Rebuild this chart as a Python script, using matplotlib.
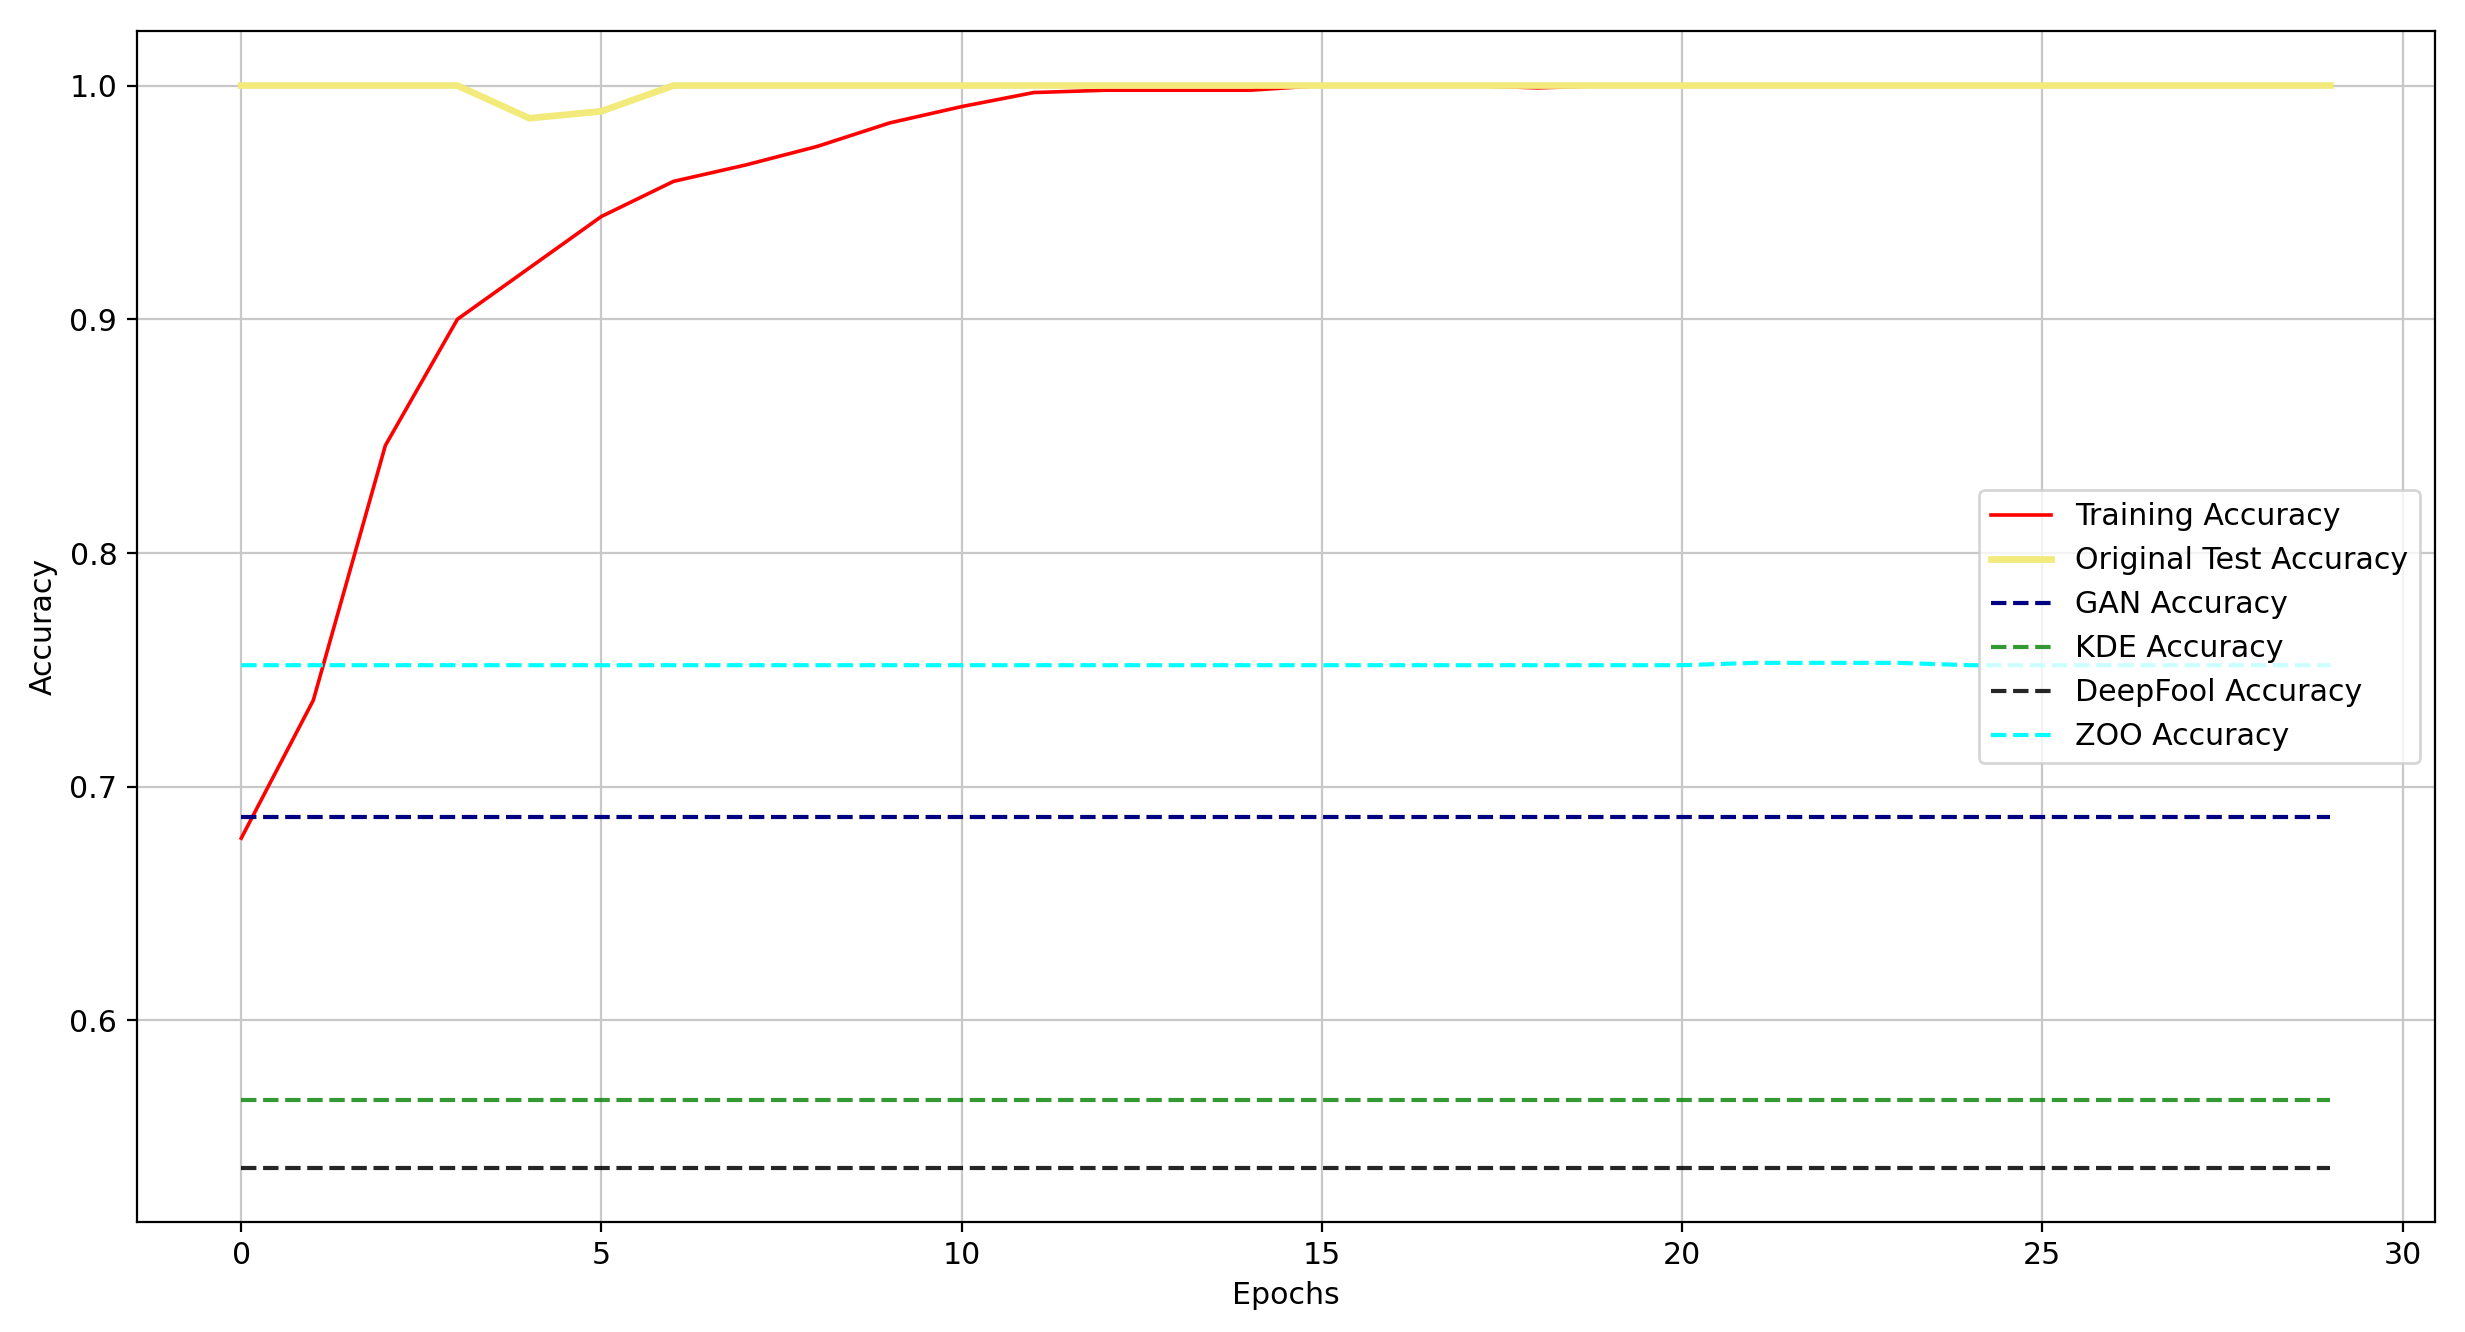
import numpy as np
import matplotlib
matplotlib.use('Agg')
import matplotlib.pyplot as plt

plt.rcParams['font.size'] = 10.8

# 학습 곡선 데이터
epochs = np.arange(30)

train_acc = [0.678, 0.737, 0.846, 0.900, 0.922, 0.944, 0.959, 0.966, 0.974, 0.984,
             0.991, 0.997, 0.998, 0.998, 0.998, 1.000, 1.000, 1.000, 0.999, 1.000,
             1.000, 1.000, 1.000, 1.000, 1.000, 1.000, 1.000, 1.000, 1.000, 1.000]

test_acc = [1.000, 1.000, 1.000, 1.000, 0.986, 0.989, 1.000, 1.000, 1.000, 1.000,
            1.000, 1.000, 1.000, 1.000, 1.000, 1.000, 1.000, 1.000, 1.000, 1.000,
            1.000, 1.000, 1.000, 1.000, 1.000, 1.000, 1.000, 1.000, 1.000, 1.000]

gan_acc = [0.687] * 30
kde_acc = [0.566] * 30
deepfool_acc = [0.537] * 30
zoo_acc = [0.752] * 21 + [0.753] * 3 + [0.752] * 6

fig = plt.figure(figsize=(12.325, 6.66), dpi=200)
ax = fig.add_axes([0.0555, 0.0827, 0.9323, 0.8937])

ax.plot(epochs, train_acc, color='red', linewidth=1.3, label='Training Accuracy')
ax.plot(epochs, test_acc, color='#f2ea7a', linewidth=2.4, label='Original Test Accuracy')
ax.plot(epochs, gan_acc, '--', color='navy', linewidth=1.5, label='GAN Accuracy')
ax.plot(epochs, kde_acc, '--', color='green', linewidth=1.5, alpha=0.8, label='KDE Accuracy')
ax.plot(epochs, deepfool_acc, '--', color='black', linewidth=1.5, alpha=0.85, label='DeepFool Accuracy')
ax.plot(epochs, zoo_acc, '--', color='cyan', linewidth=1.5, label='ZOO Accuracy')

ax.set_xlabel('Epochs')
ax.set_ylabel('Accuracy')
ax.grid(True, color='#c8c8c8')
ax.legend(loc='center right')

plt.savefig('out.png', dpi=200)
plt.close()
